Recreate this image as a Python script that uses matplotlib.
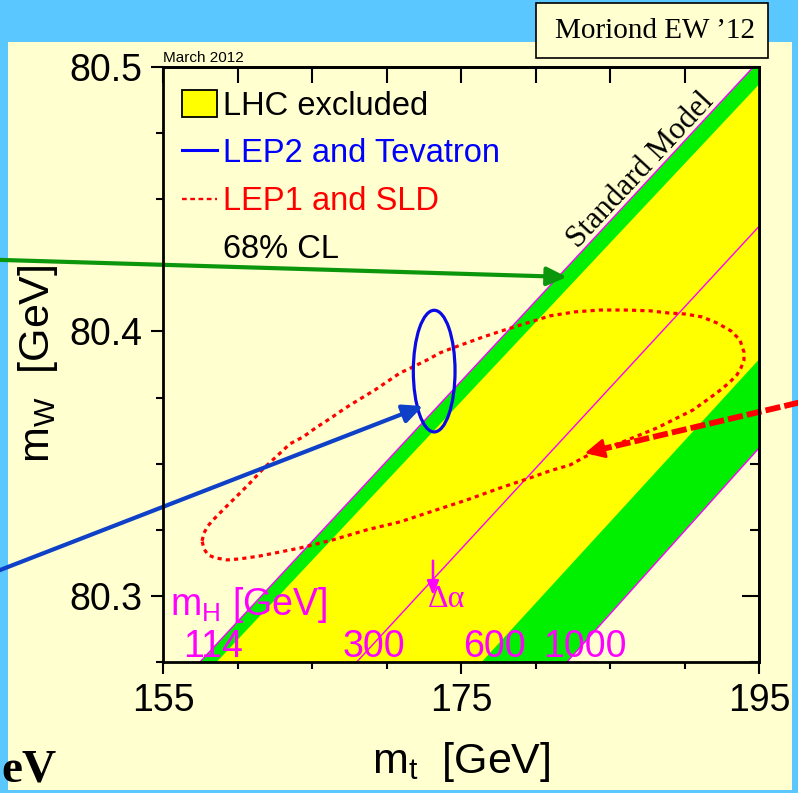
import math
import matplotlib
matplotlib.use('Agg')
import matplotlib.pyplot as plt
from matplotlib.patches import Rectangle, Ellipse, Polygon
from matplotlib.ticker import MultipleLocator, FixedLocator, FormatStrFormatter

plt.rcParams['font.family'] = ['Liberation Sans', 'DejaVu Sans']
plt.rcParams['mathtext.fontset'] = 'custom'
plt.rcParams['mathtext.rm'] = 'Liberation Sans'
plt.rcParams['mathtext.it'] = 'Liberation Sans:italic'
plt.rcParams['mathtext.sf'] = 'Liberation Sans'

# ---------------- data ----------------
# Standard-Model mH lines: mt values at mW = 80.275 and mW = 80.5
mw_edge = [80.275, 80.5]
mt_mh114 = [157.48, 194.62]
mt_lhc_lo = [158.60, 196.10]
mt_mh300 = [168.00, 204.88]
mt_mh600 = [176.39, 212.99]
mt_mh1000 = [182.11, 217.96]

# LEP2 and Tevatron 68% CL contour (direct)
lep2_center = [173.2, 80.385]
lep2_halfaxes = [1.40, 0.0230]

# LEP1 and SLD 68% CL contour (indirect), traced
lep1_mt = [157.62, 157.75, 158.02, 158.36, 158.76, 159.16, 159.63, 160.17, 160.84, 161.71,
           162.65, 163.52, 164.40, 165.34, 166.28, 167.15, 167.68, 169.23, 170.91, 171.78,
           172.72, 173.59, 174.46, 175.40, 176.48, 177.95, 179.43, 180.97, 182.65, 184.33,
           186.01, 187.68, 188.89, 190.03, 191.17, 192.18, 193.12, 193.72, 193.99,
           193.99, 193.79, 193.52, 193.12, 192.52, 191.71, 190.57, 189.36, 188.15, 187.01,
           185.67, 184.33, 183.32, 182.32, 180.97, 179.63, 177.62, 175.40, 173.12, 170.91,
           168.69, 166.41, 164.19, 162.85, 161.51, 160.17, 159.30, 158.49, 158.02, 157.75]
lep1_mw = [80.3208, 80.3238, 80.3265, 80.3287, 80.3310, 80.3333, 80.3359, 80.3389, 80.3427, 80.3480,
           80.3529, 80.3575, 80.3601, 80.3639, 80.3673, 80.3707, 80.3726, 80.3779, 80.3843, 80.3866,
           80.3892, 80.3919, 80.3938, 80.3957, 80.3979, 80.4006, 80.4032, 80.4059, 80.4074, 80.4081,
           80.4081, 80.4078, 80.4070, 80.4066, 80.4055, 80.4032, 80.4002, 80.3968, 80.3922,
           80.3892, 80.3862, 80.3836, 80.3813, 80.3783, 80.3749, 80.3703, 80.3669, 80.3635, 80.3609,
           80.3578, 80.3552, 80.3526, 80.3495, 80.3473, 80.3446, 80.3408, 80.3363, 80.3321, 80.3280,
           80.3250, 80.3212, 80.3181, 80.3166, 80.3151, 80.3140, 80.3136, 80.3144, 80.3155, 80.3178]

# arrows (start, tip) in (mt, mW)
green_arrow = [(143.8, 80.4271), (182.11, 80.4206)]
blue_arrow = [(143.8, 80.3092), (172.45, 80.3718)]
red_arrow = [(197.9, 80.3734), (183.32, 80.3540)]

mh_labels = ['114', '300', '600', '1000']
x_ticks = [155, 175, 195]
y_ticks = [80.3, 80.4, 80.5]
legend_labels = ['LHC excluded', 'LEP2 and Tevatron', 'LEP1 and SLD', '68% CL']

# ---------------- layout ----------------
W, H = 798, 793
def fx(px):
    return px / W
def fy(py):
    return 1 - py / H

sky = '#5AC8FF'
cream = '#FFFFD0'
yellow = '#FFFF00'
green = '#00F000'
magenta = '#FF00FF'

fig = plt.figure(figsize=(7.98, 7.93), dpi=100)
fig.patch.set_facecolor(sky)
fig.patches.append(Rectangle((fx(8), fy(790)), (792 - 8) / W, (790 - 42) / H,
                             transform=fig.transFigure, facecolor=cream,
                             edgecolor='none', zorder=-5))
fig.patches.append(Rectangle((fx(536), fy(58)), (768 - 536) / W, (58 - 3) / H,
                             transform=fig.transFigure, facecolor=cream,
                             edgecolor='black', lw=1.2, zorder=5))
fig.text(fx(655), fy(31), 'Moriond EW \u201912', family='Liberation Serif',
         fontsize=21, ha='center', va='center', zorder=6)

ax = fig.add_axes([fx(163), fy(662), 596 / W, 595 / H])
ax.set_facecolor(cream)
ax.set_xlim(155, 195)
ax.set_ylim(80.275, 80.5)

# bands
def band(a, b, color, z):
    verts = [(a[0], mw_edge[0]), (a[1], mw_edge[1]), (b[1], mw_edge[1]), (b[0], mw_edge[0])]
    ax.add_patch(Polygon(verts, closed=True, facecolor=color, edgecolor='none', zorder=z))

band(mt_mh114, mt_mh1000, green, 1)
band(mt_lhc_lo, mt_mh600, yellow, 2)
for line in (mt_mh114, mt_mh300, mt_mh1000):
    ax.plot(line, mw_edge, color=magenta, lw=1.0, zorder=3)

# contours
ax.plot(lep1_mt + lep1_mt[:1], lep1_mw + lep1_mw[:1], color='red', lw=2.3,
        ls=(0, (1.3, 1.3)), zorder=6)
ax.add_patch(Ellipse(lep2_center, 2 * lep2_halfaxes[0], 2 * lep2_halfaxes[1],
                     fill=False, edgecolor='#0A0AE6', lw=2.3, zorder=7))

# arrows
def arrow(seg, color, lw, ls='-'):
    (x0, y0), (x1, y1) = seg
    if ls == '-':
        ax.annotate('', xy=(x1, y1), xytext=(x0, y0), annotation_clip=False,
                    arrowprops=dict(arrowstyle='-|>,head_length=0.6,head_width=0.28',
                                    mutation_scale=20, color=color, lw=lw,
                                    shrinkA=0, shrinkB=0), zorder=9)
    else:
        f = 0.93
        xm, ym = x0 + f * (x1 - x0), y0 + f * (y1 - y0)
        ax.plot([x0, xm], [y0, ym], color=color, lw=lw, ls=ls, clip_on=False, zorder=9,
                solid_capstyle='butt', dash_capstyle='butt')
        ax.annotate('', xy=(x1, y1), xytext=(xm, ym), annotation_clip=False,
                    arrowprops=dict(arrowstyle='-|>,head_length=0.6,head_width=0.3',
                                    mutation_scale=20, color=color, lw=2,
                                    shrinkA=0, shrinkB=0), zorder=9)

arrow(green_arrow, '#0C960C', 3.0)
arrow(blue_arrow, '#0F41C8', 3.0)
arrow(red_arrow, '#FF0000', 4.2, ls=(0, (2.6, 0.7)))

# ticks
ax.xaxis.set_major_locator(FixedLocator(x_ticks))
ax.xaxis.set_minor_locator(MultipleLocator(5))
ax.yaxis.set_major_locator(FixedLocator(y_ticks))
ax.yaxis.set_minor_locator(MultipleLocator(0.025))
ax.xaxis.set_major_formatter(FormatStrFormatter('%d'))
ax.yaxis.set_major_formatter(FormatStrFormatter('%.1f'))
ax.tick_params(which='major', direction='out', length=8.6, width=1.5,
               labelsize=27, pad=6.5, top=False, right=False)
ax.tick_params(which='minor', direction='out', length=5, width=1.5, top=False, right=False)
for s in ax.spines.values():
    s.set_linewidth(2.0)
    s.set_zorder(10)

secx = ax.secondary_xaxis('top')
secx.set_xticks(x_ticks)
secx.xaxis.set_minor_locator(MultipleLocator(5))
secx.tick_params(axis='x', which='both', direction='in', length=11.5, width=1.5, labeltop=False)
secx.spines['top'].set_linewidth(2.0)
secy = ax.secondary_yaxis('right')
secy.set_yticks(y_ticks)
secy.yaxis.set_minor_locator(MultipleLocator(0.025))
secy.tick_params(axis='y', which='major', direction='in', length=12, width=1.5, labelright=False)
secy.tick_params(axis='y', which='minor', direction='in', length=6.5, width=1.5, labelright=False)
secy.spines['right'].set_linewidth(2.0)

# legend (manual)
ax.add_patch(Rectangle((0.0319, 0.916), 0.0587, 0.045, transform=ax.transAxes,
                       facecolor=yellow, edgecolor='black', lw=1.3, zorder=8))
ax.plot([0.0319, 0.0906], [0.8605, 0.8605], transform=ax.transAxes, color='#0000FF', lw=2.2, zorder=8)
ax.plot([0.0319, 0.0906], [0.778, 0.778], transform=ax.transAxes, color='red', lw=1.7,
        ls=(0, (2.0, 1.5)), zorder=8)
leg_colors = ['black', '#0000FF', '#FF0000', 'black']
leg_y = [0.9193, 0.8403, 0.7597, 0.679]
for lab, c, yy in zip(legend_labels, leg_colors, leg_y):
    ax.text(0.1007, yy, lab, transform=ax.transAxes, color=c, fontsize=23.5,
            ha='left', va='baseline', zorder=8)

# mH annotations
ax.text(155.47, 80.2928, 'm$_{\\mathrm{H}}$ [GeV]', color=magenta, fontsize=27,
        ha='left', va='baseline', zorder=8)
for lab, xm in zip(mh_labels, [156.34, 167.08, 175.13, 180.50]):
    ax.text(xm, 80.2769, lab, color=magenta, fontsize=27, ha='left', va='baseline', zorder=8)
ax.annotate('', xy=(173.12, 80.3003), xytext=(173.12, 80.3133),
            arrowprops=dict(arrowstyle='-|>,head_length=0.6,head_width=0.25',
                            mutation_scale=14, color=magenta, lw=1.8, shrinkA=0, shrinkB=0),
            zorder=8)
ax.text(172.76, 80.2958, '\u0394\u03b1', family='Liberation Serif', color=magenta,
        fontsize=23, ha='left', va='baseline', zorder=8)

# Standard Model label along the 114 line
p1 = ax.transData.transform((mt_mh114[0], mw_edge[0]))
p2 = ax.transData.transform((mt_mh114[1], mw_edge[1]))
ang = math.degrees(math.atan2(p2[1] - p1[1], p2[0] - p1[0]))
ax.text(187.42, 80.4588, 'Standard Model', family='Liberation Serif', fontsize=22.5,
        rotation=ang, rotation_mode='anchor', ha='center', va='baseline', zorder=8)

# axis labels and misc text
fig.text(fx(461), fy(773), 'm$_{\\mathrm{t}}$  [GeV]', fontsize=31, ha='center', va='baseline')
fig.text(fx(38), fy(364), 'm$_{\\mathrm{W}}$  [GeV]', fontsize=31, rotation=90,
         ha='center', va='center')
fig.text(fx(163), fy(62), 'March 2012', fontsize=11, ha='left', va='baseline')
fig.text(fx(1), fy(782), 'eV', family='Liberation Serif', fontweight='bold',
         fontsize=34, ha='left', va='baseline')

fig.savefig('out.png', dpi=100, facecolor=sky)
